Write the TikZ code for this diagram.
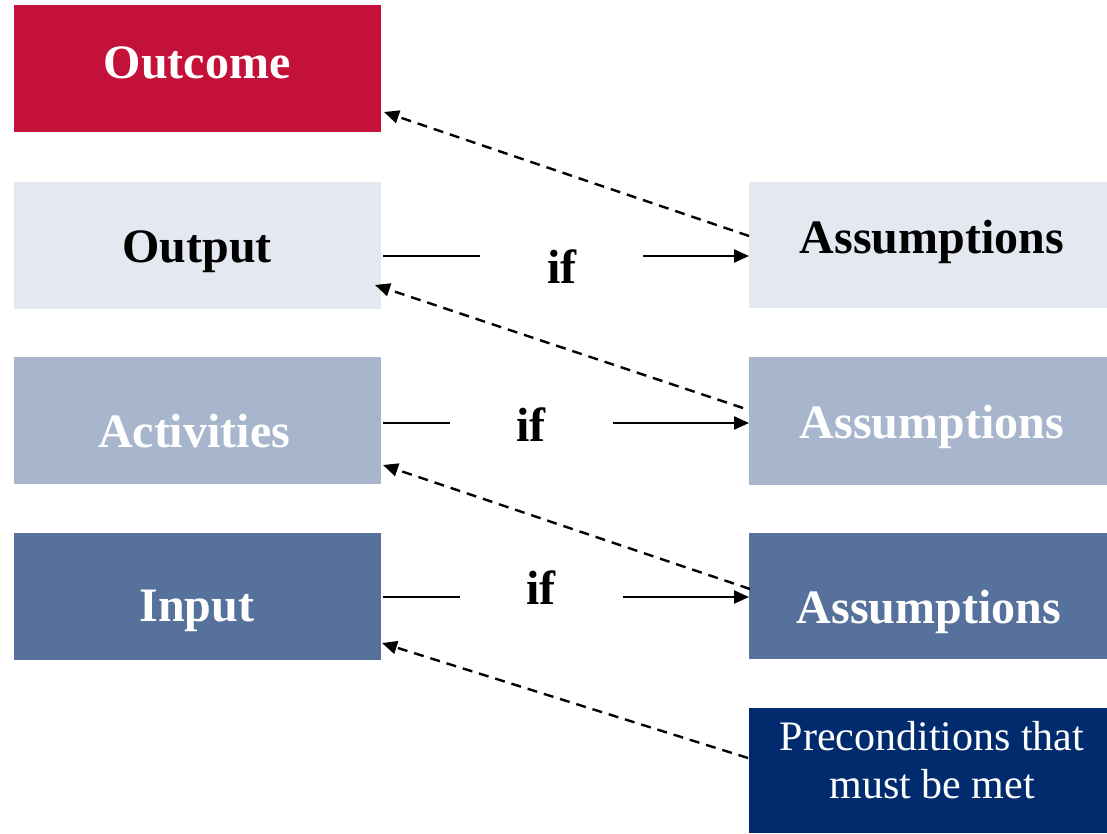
\documentclass[tikz,border=0pt]{standalone}
\usepackage{fontspec}
\setmainfont{Liberation Serif}
\usetikzlibrary{arrows.meta,calc}
\definecolor{cOutcome}{HTML}{C3113A}
\definecolor{cLight}{HTML}{E4E8F0}
\definecolor{cMid}{HTML}{A7B6CC}
\definecolor{cDark}{HTML}{55719C}
\definecolor{cNavy}{HTML}{012B6D}
\tikzset{
  box/.style={draw=none, inner sep=0pt, anchor=north west, minimum width=#1, minimum height=127pt},
  box/.default=367pt,
  bigtxt/.style={font=\fontsize{48}{52}\selectfont\bfseries, anchor=base, inner sep=0pt},
  iftxt/.style={font=\fontsize{48}{52}\selectfont\bfseries, anchor=base, inner sep=0pt},
  plain/.style={line width=2.4pt, draw=black},
  solidarrow/.style={line width=2.4pt, -{Triangle[length=15pt,width=13pt]}},
  dasharrow/.style={line width=2.4pt, dash pattern=on 10pt off 7pt, -{Triangle[length=15pt,width=13pt]}}
}
\begin{document}
\begin{tikzpicture}[x=1pt,y=-1pt]
\useasboundingbox (0,0) rectangle (1107,833);
% left boxes
\node[box, fill=cOutcome] (outcome) at (14,5) {};
\node[box, fill=cLight] (output) at (14,182) {};
\node[box, fill=cMid] (activities) at (14,357) {};
\node[box, fill=cDark] (input) at (14,533) {};
% right boxes
\node[box=358pt, fill=cLight, minimum height=126pt] (ass1) at (749,182) {};
\node[box=358pt, fill=cMid, minimum height=128pt] (ass2) at (749,357) {};
\node[box=358pt, fill=cDark, minimum height=126pt] (ass3) at (749,533) {};
\node[box=358pt, fill=cNavy, minimum height=125pt] (pre) at (749,708) {};
% texts
\node[bigtxt, text=white] (tOutcome) at (197,78) {Outcome};
\node[bigtxt, text=black] (tOutput) at (197,262) {Output};
\node[bigtxt, text=white] (tActivities) at (194,447) {Activities};
\node[bigtxt, text=white] (tInput) at (197,621) {Input};
\node[bigtxt, text=black] (tA1) at (932,253) {Assumptions};
\node[bigtxt, text=white] (tA2) at (932,438) {Assumptions};
\node[bigtxt, text=white] (tA3) at (929,623) {Assumptions};
\node[font=\fontsize{42}{48}\selectfont, text=white, anchor=base, inner sep=0pt, align=center] (tPre) at (932,798) {Preconditions that\\must be met};
% if labels
\node[iftxt] (if1) at (562,283) {if};
\node[iftxt] (if2) at (531,441) {if};
\node[iftxt] (if3) at (541,604) {if};
% if connectors
\coordinate (l1a) at (383,256); \coordinate (l1b) at (480,256); \coordinate (r1a) at (643,256);
\coordinate (l2a) at (383,423); \coordinate (l2b) at (450,423); \coordinate (r2a) at (613,423);
\coordinate (l3a) at (383,597); \coordinate (l3b) at (460,597); \coordinate (r3a) at (623,597);
\draw[plain] (l1a) -- (l1b);
\draw[solidarrow] (r1a) -- (ass1.west |- r1a);
\draw[plain] (l2a) -- (l2b);
\draw[solidarrow] (r2a) -- (ass2.west |- r2a);
\draw[plain] (l3a) -- (l3b);
\draw[solidarrow] (r3a) -- (ass3.west |- r3a);
% dashed feedback arrows
\coordinate (d1s) at (749,236); \coordinate (d1e) at (384,112);
\coordinate (d2s) at (743,408); \coordinate (d2e) at (375,285);
\coordinate (d3s) at (750,589); \coordinate (d3e) at (383,465);
\coordinate (d4s) at (748,758); \coordinate (d4e) at (382,643);
\draw[dasharrow] (d1s) -- (d1e);
\draw[dasharrow] (d2s) -- (d2e);
\draw[dasharrow] (d3s) -- (d3e);
\draw[dasharrow] (d4s) -- (d4e);
\end{tikzpicture}
\end{document}
